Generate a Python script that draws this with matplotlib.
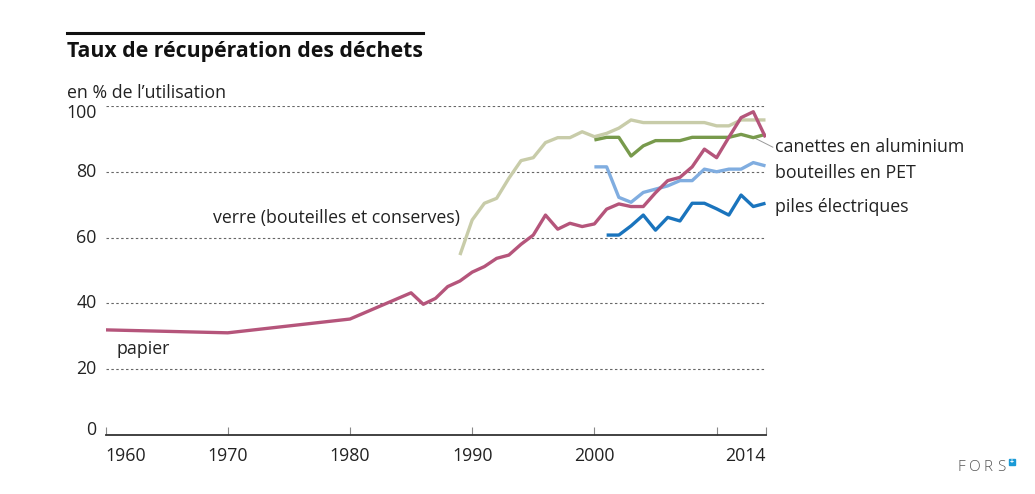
import matplotlib
matplotlib.use("Agg")
import matplotlib.pyplot as plt
from matplotlib.lines import Line2D
from matplotlib.patches import Rectangle

plt.rcParams["font.family"] = ["Open Sans", "DejaVu Sans"]

# ── data (taux de récupération, % de l'utilisation) ──────────────────────────
papier_years = [1960, 1970, 1980] + list(range(1985, 2015))
papier = [31.9, 31.0, 35.2,
          43.2, 39.7, 41.5, 45.1, 46.8, 49.5, 51.2, 53.7, 54.7, 58.0,
          60.8, 66.9, 62.6, 64.4, 63.4, 64.2, 68.7, 70.3, 69.5, 69.5,
          73.7, 77.4, 78.4, 81.6, 87.0, 84.4, 90.6, 96.6, 98.4, 90.6]

verre_years = list(range(1989, 2015))
verre = [54.7, 65.4, 70.5, 72.0, 78.1, 83.5, 84.4, 89.0, 90.5, 90.5,
         92.3, 90.8, 91.8, 93.4, 95.9, 95.1, 95.1, 95.1, 95.1, 95.1,
         95.1, 94.1, 94.1, 95.9, 95.9, 95.9]

alu_years = list(range(2000, 2015))
alu = [89.8, 90.6, 90.6, 84.9, 88.0, 89.6, 89.6, 89.6, 90.6, 90.6,
       90.6, 90.6, 91.5, 90.5, 91.5]

pet_years = list(range(2000, 2015))
pet = [81.6, 81.6, 72.3, 70.8, 73.8, 74.8, 75.8, 77.4, 77.4, 80.9,
       80.1, 80.9, 80.9, 82.9, 81.9]

piles_years = list(range(2001, 2015))
piles = [60.8, 60.8, 63.6, 66.9, 62.3, 66.2, 65.1, 70.5, 70.5, 68.8,
         66.9, 73.0, 69.5, 70.5]

xticks = [1960, 1970, 1980, 1990, 2000, 2010, 2014]
xlabels = ["1960", "1970", "1980", "1990", "2000", "", "2014"]
yticks = [0, 20, 40, 60, 80, 100]

W, H = 1035, 494
fig = plt.figure(figsize=(W / 100, H / 100), dpi=100)
ax = fig.add_axes([105.5 / W, (H - 434.5) / H, 660 / W, 328 / H])
ax.set_xlim(1960, 2014)
ax.set_ylim(0, 100)
for s in ["top", "right", "left"]:
    ax.spines[s].set_visible(False)
ax.spines["bottom"].set_color("#333333")
ax.spines["bottom"].set_linewidth(1.3)

# gridlines
for v in yticks[1:]:
    ax.axhline(v, color="#666666", lw=0.8, ls=(0, (2.2, 2.2)), zorder=1)

ax.set_yticks([])
ax.set_xticks(xticks)
ax.tick_params(axis="x", direction="in", length=6, width=0.8, color="#888888",
               labelsize=12.8, labelcolor="#222222", pad=9)
ax.set_xticklabels(xlabels)
tl = ax.get_xticklabels()
tl[0].set_ha("left")
tl[-1].set_ha("right")

# y labels (100 sits a bit under its line, 0 a bit above the axis)
y_shift = {100: -7, 0: 5}
for v in yticks:
    ax.annotate(str(v), (0, v), xycoords=("axes fraction", "data"),
                xytext=(-9 * 0.72, y_shift.get(v, 0) * 0.72),
                textcoords="offset points", ha="right", va="center",
                fontsize=12.8, color="#222222", annotation_clip=False)

lw = 2.4
ax.plot(verre_years, verre, color="#c8cca9", lw=lw, zorder=3, solid_capstyle="butt")
ax.plot(alu_years, alu, color="#789a4c", lw=lw, zorder=4, solid_capstyle="butt")
ax.plot(pet_years, pet, color="#80ade0", lw=lw, zorder=4, solid_capstyle="butt")
ax.plot(piles_years, piles, color="#1a74bd", lw=lw, zorder=4, solid_capstyle="butt")
ax.plot(papier_years, papier, color="#b5557b", lw=lw, zorder=5, solid_capstyle="butt")

lab = dict(fontsize=12.8, color="#222222", va="center", ha="left", clip_on=False)
ax.text(2014.75, 87.7, "canettes en aluminium", **lab)
ax.text(2014.75, 79.7, "bouteilles en PET", **lab)
ax.text(2014.75, 69.4, "piles électriques", **lab)
ax.text(1968.8, 66.0, "verre (bouteilles et conserves)", **lab)
ax.text(1960.9, 26.1, "papier", **lab)
ax.plot([2013.0, 2014.6], [90.6, 87.6], color="#999999", lw=0.7, clip_on=False, zorder=2)

# title block
fig.add_artist(Line2D([67 / W, 423 / W], [1 - 33.3 / H] * 2, color="#111111", lw=2.2))
fig.text(67 / W, 1 - 56.7 / H, "Taux de récupération des déchets", fontsize=15.3,
         fontweight="bold", color="#111111", va="baseline", ha="left")
fig.text(67 / W, 1 - 97.5 / H, "en % de l’utilisation", fontsize=12.8,
         color="#222222", va="baseline", ha="left")

# FORS mark
for i, ch in enumerate("FORS"):
    fig.text((961 + i * 13.5) / W, 1 - 467.5 / H, ch, fontsize=11, color="#555555",
             ha="center", va="center", fontweight="light")
fig.add_artist(Rectangle((1008.5 / W, 1 - 465 / H), 6 / W, 6 / H,
                         color="#1a9ad6", transform=fig.transFigure))
fig.text(1011.5 / W, 1 - 462 / H, "+", fontsize=5, color="white",
         ha="center", va="center", fontweight="bold")

fig.savefig("out.png", dpi=100)
